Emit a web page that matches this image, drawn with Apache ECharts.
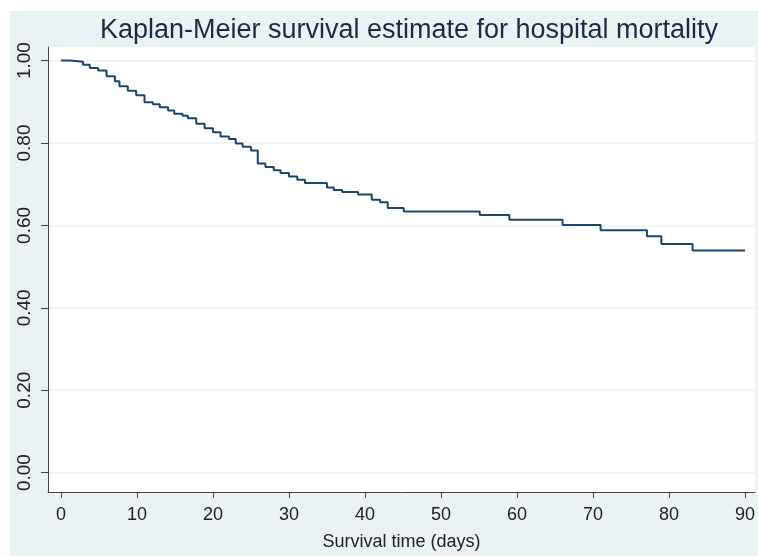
<!DOCTYPE html>
<html>
<head>
<meta charset="utf-8">
<script src="https://cdn.jsdelivr.net/npm/echarts@6/dist/echarts.min.js"></script>
<style>
  html, body { margin: 0; padding: 0; background: #fff; }
  #chart { position: absolute; left: 10px; top: 11px; width: 748px; height: 545px; background: #eaf2f3; }
</style>
</head>
<body>
<div id="chart"></div>
<script>
// Kaplan-Meier step points: time (days) and survival probability
var times = [0, 1.2, 2.9, 3.8, 4.9, 6.0, 7.1, 7.7, 8.8, 9.9, 11.0, 12.1, 13.0, 14.1, 14.9, 16.0,
  16.7, 17.8, 18.9, 20.0, 21.0, 22.1, 23.0, 23.9, 25.0, 25.9, 26.9, 28.0, 28.9, 30.0, 31.1, 32.1,
  35.0, 35.9, 37.0, 39.1, 40.9, 42.0, 43.0, 45.1, 55.1, 59.0, 66.0, 71.0, 77.1, 79.0, 83.1, 90];
var survival = [1.0, 0.997, 0.990, 0.982, 0.976, 0.962, 0.950, 0.938, 0.927, 0.916, 0.899, 0.894, 0.887, 0.879, 0.871, 0.866,
  0.860, 0.847, 0.836, 0.826, 0.816, 0.810, 0.799, 0.791, 0.782, 0.750, 0.742, 0.734, 0.727, 0.719, 0.711, 0.703,
  0.692, 0.686, 0.681, 0.675, 0.662, 0.656, 0.642, 0.634, 0.625, 0.614, 0.601, 0.588, 0.574, 0.555, 0.539, 0.539];
var xTicks = [0, 10, 20, 30, 40, 50, 60, 70, 80, 90];
var yTicks = [0, 0.2, 0.4, 0.6, 0.8, 1.0];

var pts = [];
for (var i = 0; i < times.length; i++) {
  pts.push([times[i], survival[i]]);
}

var chart = echarts.init(document.getElementById('chart'));
var font = 'Liberation Sans, Arial, sans-serif';
chart.setOption({
  animation: false,
  title: {
    text: 'Kaplan-Meier survival estimate for hospital mortality',
    left: 394,
    top: 1,
    textAlign: 'center',
    textStyle: { fontFamily: font, fontSize: 27, fontWeight: 'normal', color: '#1c2a48' }
  },
  grid: {
    left: 38, right: 0, top: 36, bottom: 59,
    show: true, backgroundColor: '#ffffff', borderWidth: 0
  },
  xAxis: {
    type: 'value',
    min: -1.7,
    max: 91.3,
    name: 'Survival time (days)',
    nameLocation: 'middle',
    nameGap: 41,
    nameTextStyle: { fontFamily: font, fontSize: 18, color: '#222' },
    axisLine: { show: true, onZero: false, lineStyle: { color: '#444', width: 1 } },
    axisTick: { show: true, length: 6, customValues: xTicks, lineStyle: { color: '#444' } },
    axisLabel: { customValues: xTicks, margin: 14, fontFamily: font, fontSize: 18, color: '#222' },
    splitLine: { show: false }
  },
  yAxis: {
    type: 'value',
    min: -0.047,
    max: 1.033,
    axisLine: { show: true, onZero: false, lineStyle: { color: '#444', width: 1 } },
    axisTick: { show: true, length: 7, customValues: yTicks, lineStyle: { color: '#444' } },
    axisLabel: {
      customValues: yTicks,
      rotate: 90,
      margin: 14,
      fontFamily: font, fontSize: 19, color: '#222',
      formatter: function (v) { return v.toFixed(2); }
    },
    splitLine: { show: true, lineStyle: { color: '#eaf2f3', width: 1.5 } }
  },
  series: [{
    type: 'line',
    step: 'end',
    data: pts,
    showSymbol: false,
    lineStyle: { color: '#1a476f', width: 2 }
  }]
});
</script>
</body>
</html>
